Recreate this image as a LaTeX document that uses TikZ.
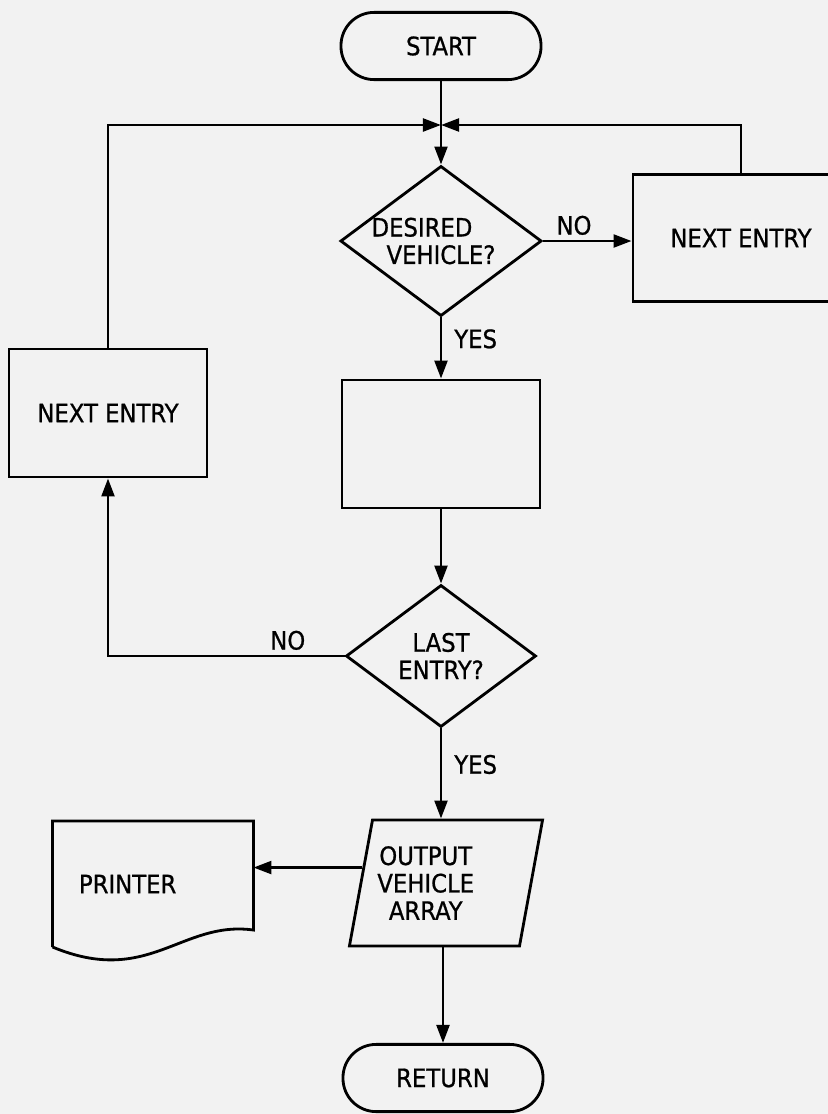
\documentclass[tikz,border=0pt]{standalone}
\usepackage{fontspec}
\setmainfont{DejaVu Sans Condensed}[FakeBold=0.8]
\usetikzlibrary{arrows.meta,calc,shapes.geometric}

\begin{document}
\begin{tikzpicture}[
    x=0.025cm, y=-0.025cm,
    font=\fontsize{18}{19.5}\selectfont,
    >={Triangle[length=0.45cm,width=0.32cm]},
    line width=2pt,
    term/.style={draw, rounded corners=0.83cm, minimum width=5cm, minimum height=1.68cm},
    procbox/.style={draw, minimum width=4.95cm, minimum height=3.2cm},
    decision/.style={draw, diamond, aspect=1.34, inner sep=0pt, align=center,
      minimum width=4.75cm, minimum height=3.55cm},
    iobox/.style={draw, trapezium, trapezium left angle=74.5, trapezium right angle=105.5,
      trapezium stretches=true, align=center, minimum width=4.83cm, minimum height=3.15cm}
  ]
  \useasboundingbox (0,0) rectangle (828,1114);
  \clip (0,0) rectangle (828,1114);
  \fill[black!5] (0,0) rectangle (828,1114);

  % main column
  \node[term] (start) at (441,46) {START};
  \node[decision] (desired) at (441,241) {DESIRED\kern1.5em\\VEHICLE?};
  \node[procbox] (midbox) at (441,444) {};
  \node[decision] (last) at (441,656) {LAST\\ENTRY?};
  \node[iobox] (outv) at (446,883) {OUTPUT\kern1.6em\\VEHICLE\kern1.6em\\ARRAY\kern1.6em};
  \node[term] (ret) at (443,1078) {RETURN};

  % side boxes
  \node[procbox, minimum width=5.4cm, minimum height=3.18cm] (nextR) at (741,238) {NEXT ENTRY};
  \node[procbox] (nextL) at (108,413) {NEXT ENTRY};
  \node[text width=3.7cm, inner xsep=0.625cm, minimum height=3.08cm, align=left] (printer) at (153,884) {PRINTER};
  \draw (printer.south west) -- (printer.north west) -- (printer.north east)
    -- ($(printer.south east)+(0,-17)$)
    .. controls ($(printer.south east)+(-72,-27)$) and ($(printer.south west)+(96,40)$) .. (printer.south west);

  % connectors
  \coordinate (join) at (441,125);
  \draw[->] (start) -- (desired);
  \draw[->] (nextL.north) |- (join);
  \draw[->] (nextR.north) |- (join);
  \draw[->] (desired.east) -- (desired.east -| nextR.west) node[above, pos=0.35] {NO};
  \draw[->] (desired) -- (midbox) node[right, xshift=0.18cm, pos=0.35] {YES};
  \draw[->] (midbox) -- (last);
  \draw[->] (last.west) -| (nextL.south) node[above, pos=0.12] {NO};
  \draw[->] (last.south) -- (last.south |- outv.north) node[right, xshift=0.18cm, pos=0.4] {YES};
  \coordinate (outpt) at ($(outv.top left corner)!0.38!(outv.bottom left corner)$);
  \draw[->] (outpt) -- (outpt -| printer.east);
  \draw[->] (ret.north |- outv.south) -- (ret.north);
\end{tikzpicture}
\end{document}
